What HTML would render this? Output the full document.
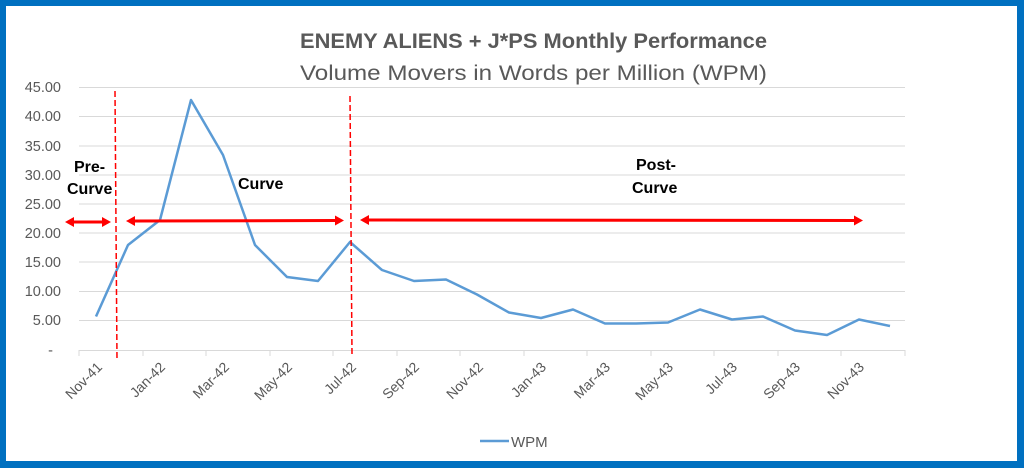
<!DOCTYPE html>
<html><head><meta charset="utf-8"><style>
html,body{margin:0;padding:0;background:#fff}
svg{display:block}
text{font-family:"Liberation Sans",Calibri,sans-serif}
</style></head><body>
<svg width="1024" height="468" viewBox="0 0 1024 468" xmlns="http://www.w3.org/2000/svg">
<rect x="0" y="0" width="1024" height="468" fill="#0070C0"/>
<rect x="6" y="6" width="1011" height="455" fill="#fff"/>
<text x="300" y="48" font-size="21" font-weight="bold" fill="#595959" textLength="467" lengthAdjust="spacingAndGlyphs">ENEMY ALIENS + J*PS Monthly Performance</text>
<text x="300" y="80" font-size="21" fill="#595959" textLength="467" lengthAdjust="spacingAndGlyphs">Volume Movers in Words per Million  (WPM)</text>
<g stroke="#d9d9d9" stroke-width="1">
<line x1="79" x2="905" y1="87.5" y2="87.5"/><line x1="79" x2="905" y1="116.5" y2="116.5"/>
<line x1="79" x2="905" y1="146" y2="146"/><line x1="79" x2="905" y1="175" y2="175"/>
<line x1="79" x2="905" y1="204" y2="204"/><line x1="79" x2="905" y1="233" y2="233"/>
<line x1="79" x2="905" y1="262" y2="262"/><line x1="79" x2="905" y1="291.5" y2="291.5"/>
<line x1="79" x2="905" y1="320.5" y2="320.5"/><line x1="79" x2="905" y1="350.5" y2="350.5"/>
</g>
<g stroke="#d9d9d9"><line x1="79" x2="79" y1="350" y2="356"/><line x1="143" x2="143" y1="350" y2="356"/><line x1="206" x2="206" y1="350" y2="356"/><line x1="270" x2="270" y1="350" y2="356"/><line x1="333" x2="333" y1="350" y2="356"/><line x1="397" x2="397" y1="350" y2="356"/><line x1="460" x2="460" y1="350" y2="356"/><line x1="524" x2="524" y1="350" y2="356"/><line x1="587" x2="587" y1="350" y2="356"/><line x1="651" x2="651" y1="350" y2="356"/><line x1="714" x2="714" y1="350" y2="356"/><line x1="778" x2="778" y1="350" y2="356"/><line x1="841" x2="841" y1="350" y2="356"/><line x1="905" x2="905" y1="350" y2="356"/></g>
<g font-size="14.5" fill="#595959" text-anchor="end">
<text x="61" y="92">45.00</text><text x="61" y="121">40.00</text><text x="61" y="151">35.00</text>
<text x="61" y="180">30.00</text><text x="61" y="209">25.00</text><text x="61" y="238">20.00</text>
<text x="61" y="267">15.00</text><text x="61" y="296">10.00</text><text x="61" y="325">5.00</text>
<text x="53" y="355">-</text>
</g>
<g font-size="14" fill="#595959" text-anchor="end">
<text transform="translate(103,368) rotate(-45)">Nov-41</text>
<text transform="translate(166,368) rotate(-45)">Jan-42</text>
<text transform="translate(230,368) rotate(-45)">Mar-42</text>
<text transform="translate(293,368) rotate(-45)">May-42</text>
<text transform="translate(357,368) rotate(-45)">Jul-42</text>
<text transform="translate(420,368) rotate(-45)">Sep-42</text>
<text transform="translate(484,368) rotate(-45)">Nov-42</text>
<text transform="translate(547,368) rotate(-45)">Jan-43</text>
<text transform="translate(611,368) rotate(-45)">Mar-43</text>
<text transform="translate(674,368) rotate(-45)">May-43</text>
<text transform="translate(738,368) rotate(-45)">Jul-43</text>
<text transform="translate(801,368) rotate(-45)">Sep-43</text>
<text transform="translate(865,368) rotate(-45)">Nov-43</text>
</g>
<polyline fill="none" stroke="#5B9BD5" stroke-width="2.5" stroke-linejoin="round" points="96,316.5 128,245 160,220 191,100 223,155 255,245 287,277 318,281 350,242 382,270 414,281 446,279.5 477,294.5 509,312.5 541,318 573,309.5 605,323.5 636,323.5 668,322.5 700,309.5 732,319.5 763,316.5 795,330.5 827,335 859,319.5 890,326"/>
<g stroke="#ff0000" stroke-width="1.5" stroke-dasharray="6,3"><line x1="115" y1="91" x2="117" y2="360"/><line x1="350" y1="96" x2="352" y2="355"/></g>
<g stroke="#ff0000" stroke-width="3" fill="#ff0000">
<line x1="72" y1="222" x2="103" y2="222"/><polygon points="65,222 74,217 74,227" stroke="none"/><polygon points="111,222 102,217 102,227" stroke="none"/>
<line x1="133" y1="221" x2="337" y2="220.5"/><polygon points="126,221 135,216 135,226" stroke="none"/><polygon points="344,220.5 335,215.5 335,225.5" stroke="none"/>
<line x1="367" y1="220" x2="856" y2="220.5"/><polygon points="360,220 369,215 369,225" stroke="none"/><polygon points="863,220.5 854,215.5 854,225.5" stroke="none"/>
</g>
<g font-size="16" font-weight="bold" fill="#000">
<text x="74" y="172">Pre-</text><text x="67" y="194">Curve</text>
<text x="238" y="189">Curve</text>
<text x="636" y="170">Post-</text><text x="632" y="193">Curve</text>
</g>
<line x1="480" y1="441" x2="509" y2="441" stroke="#5B9BD5" stroke-width="2.5"/>
<text x="511" y="447" font-size="15" fill="#595959">WPM</text>
</svg>
</body></html>
